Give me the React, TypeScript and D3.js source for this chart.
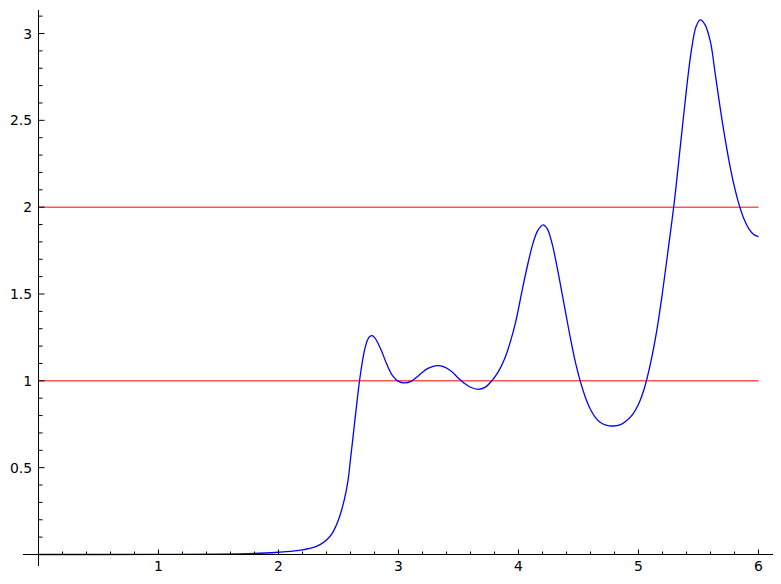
import React from "react";
import * as d3 from "d3";

const curveX = [0, 0.5, 1.0, 1.5, 1.8, 2.0, 2.1, 2.2, 2.3, 2.35, 2.4, 2.45, 2.5, 2.55, 2.58, 2.6, 2.62, 2.64, 2.66, 2.68, 2.7, 2.72, 2.74, 2.76, 2.78, 2.8, 2.83, 2.86, 2.9, 2.95, 3.0, 3.05, 3.1, 3.15, 3.2, 3.25, 3.32, 3.38, 3.44, 3.5, 3.55, 3.6, 3.665, 3.72, 3.777, 3.83, 3.88, 3.93, 3.98, 4.03, 4.08, 4.12, 4.16, 4.205, 4.24, 4.28, 4.32, 4.36, 4.4, 4.44, 4.48, 4.52, 4.56, 4.6, 4.64, 4.68, 4.73, 4.79, 4.85, 4.9, 4.95, 5.0, 5.05, 5.1, 5.15, 5.2, 5.25, 5.3, 5.35, 5.4, 5.44, 5.48, 5.515, 5.555, 5.6, 5.64, 5.68, 5.72, 5.76, 5.8, 5.84, 5.88, 5.92, 5.96, 6.0];
const curveY = [0, 0, 0.0005, 0.002, 0.006, 0.013, 0.018, 0.027, 0.042, 0.058, 0.083, 0.125, 0.2, 0.32, 0.43, 0.55, 0.67, 0.795, 0.915, 1.025, 1.115, 1.185, 1.232, 1.255, 1.26, 1.25, 1.215, 1.17, 1.1, 1.03, 0.997, 0.988, 0.995, 1.02, 1.05, 1.073, 1.087, 1.08, 1.055, 1.015, 0.985, 0.963, 0.951, 0.962, 1.0, 1.05, 1.12, 1.22, 1.35, 1.52, 1.68, 1.79, 1.865, 1.898, 1.875, 1.79, 1.66, 1.515, 1.365, 1.22, 1.09, 0.985, 0.9, 0.835, 0.79, 0.762, 0.745, 0.74, 0.748, 0.77, 0.805, 0.865, 0.96, 1.1, 1.28, 1.51, 1.77, 2.04, 2.36, 2.68, 2.9, 3.04, 3.078, 3.05, 2.95, 2.765, 2.575, 2.4, 2.245, 2.115, 2.01, 1.93, 1.875, 1.843, 1.83];

const refLines = [1, 2];
const xTickValues = [1, 2, 3, 4, 5, 6];
const xTickLabels = ["1", "2", "3", "4", "5", "6"];
const yTickValues = [0.5, 1, 1.5, 2, 2.5, 3];
const yTickLabels = ["0.5", "1", "1.5", "2", "2.5", "3"];

export default function App() {
  const W = 781, H = 584;
  const x = d3.scaleLinear().domain([0, 6]).range([38.5, 758.5]);
  const y = d3.scaleLinear().domain([0, 3]).range([554.5, 33.5]);
  const pts: [number, number][] = curveX.map((v, i) => [v, curveY[i]]);
  const line = d3.line<[number, number]>().x(d => x(d[0])).y(d => y(d[1])).curve(d3.curveCatmullRom.alpha(0.5));
  const xMinor = d3.range(1, 31).map(i => i * 0.2).filter(v => Math.abs(v - Math.round(v)) > 1e-6);
  const yMinor = d3.range(1, 32).map(i => i * 0.1).filter(v => Math.abs(v * 2 - Math.round(v * 2)) > 1e-6);
  const font = "'DejaVu Sans', sans-serif";
  return (
    <svg width={W} height={H} style={{ position: "absolute", left: 0, top: 0, background: "#fff" }}>
      <rect x={0} y={0} width={W} height={H} fill="#fff" />
      {refLines.map(v => (
        <line key={v} x1={x(0)} x2={x(6)} y1={y(v)} y2={y(v)} stroke="#ff0000" strokeWidth={1} />
      ))}
      <path d={line(pts) || ""} fill="none" stroke="#0000ff" strokeWidth={1.3} />
      <line x1={23} x2={773} y1={y(0)} y2={y(0)} stroke="#000" strokeWidth={1} />
      <line x1={x(0)} x2={x(0)} y1={10} y2={566} stroke="#000" strokeWidth={1} />
      {xTickValues.map((v, i) => (
        <g key={"xt" + v}>
          <line x1={x(v)} x2={x(v)} y1={y(0)} y2={y(0) - 5} stroke="#000" strokeWidth={1} />
          <text x={x(v)} y={571} textAnchor="middle" fontFamily={font} fontSize={13.9} fill="#000">{xTickLabels[i]}</text>
        </g>
      ))}
      {xMinor.map(v => (
        <line key={"xm" + v} x1={x(v)} x2={x(v)} y1={y(0)} y2={y(0) - 3} stroke="#000" strokeWidth={1} />
      ))}
      {yTickValues.map((v, i) => (
        <g key={"yt" + v}>
          <line x1={x(0)} x2={x(0) + 6} y1={y(v)} y2={y(v)} stroke="#000" strokeWidth={1} />
          <text x={32} y={y(v) + 5} textAnchor="end" fontFamily={font} fontSize={13.9} fill="#000">{yTickLabels[i]}</text>
        </g>
      ))}
      {yMinor.map(v => (
        <line key={"ym" + v} x1={x(0)} x2={x(0) + 4} y1={y(v)} y2={y(v)} stroke="#000" strokeWidth={1} />
      ))}
    </svg>
  );
}
